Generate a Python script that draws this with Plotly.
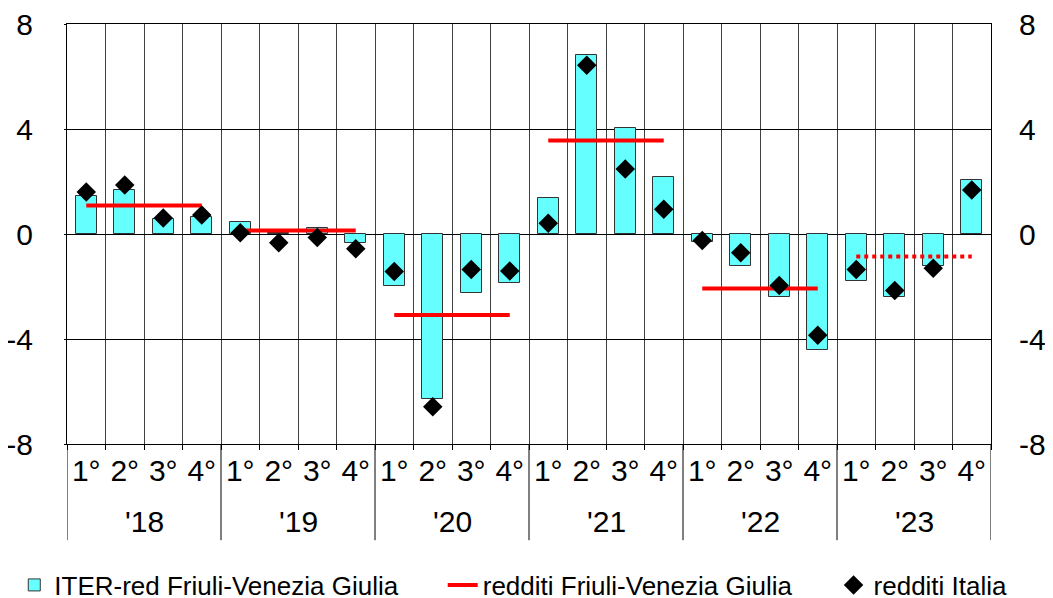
import plotly.graph_objects as go

years = ["'18", "'19", "'20", "'21", "'22", "'23"]
quarters = ["1°", "2°", "3°", "4°"]

# ITER-red Friuli-Venezia Giulia (bars), one value per quarter
iter_fvg = [1.45, 1.68, 0.58, 0.66,
            0.46, 0.02, 0.23, -0.36,
            -1.97, -6.30, -2.26, -1.88,
            1.36, 6.81, 4.03, 2.16,
            -0.32, -1.21, -2.40, -4.43,
            -1.80, -2.40, -1.21, 2.07]

# redditi Italia (diamonds)
redditi_italia = [1.60, 1.87, 0.61, 0.72,
                  0.05, -0.33, -0.13, -0.56,
                  -1.43, -6.58, -1.35, -1.41,
                  0.41, 6.43, 2.48, 0.94,
                  -0.25, -0.71, -1.96, -3.86,
                  -1.35, -2.15, -1.30, 1.68]

# redditi Friuli-Venezia Giulia, annual value (last year is an estimate, dotted)
redditi_fvg = [1.09, 0.13, -3.09, 3.56, -2.08, -0.86]

y_ticks = [-8, -4, 0, 4, 8]

nq = len(quarters)
n = len(iter_fvg)
xs = list(range(n))
x_labels = [q for y in years for q in quarters]

font = "Liberation Sans, Arial, sans-serif"

fig = go.Figure()

fig.add_trace(go.Bar(
    x=xs, y=iter_fvg, name="ITER-red Friuli-Venezia Giulia",
    marker=dict(color="#66FFFF", line=dict(color="#333333", width=1)),
    width=0.55, legend="legend",
))

for i, yr in enumerate(years):
    last = i == len(years) - 1
    fig.add_trace(go.Scatter(
        x=xs[i * nq:(i + 1) * nq], y=[redditi_fvg[i]] * nq,
        mode="lines", name="redditi Friuli-Venezia Giulia",
        line=dict(color="#FF0000", width=4, dash="dot" if last else "solid"),
        legendgroup="fvg", showlegend=(i == 0), legend="legend2",
    ))

fig.add_trace(go.Scatter(
    x=xs, y=redditi_italia, name="redditi Italia",
    mode="markers", yaxis="y2", legend="legend3",
    marker=dict(symbol="diamond", size=15, color="black"),
))

# year labels and dividers under the quarter labels
for i, yr in enumerate(years):
    fig.add_annotation(x=i * nq + (nq - 1) / 2, y=0, xref="x", yref="paper",
                       text=yr, showarrow=False, yanchor="middle", yshift=-77,
                       font=dict(size=30))
for i in range(len(years) + 1):
    fig.add_shape(type="line", xref="x", yref="paper",
                  x0=i * nq - 0.5, x1=i * nq - 0.5, y0=0, y1=-0.229,
                  line=dict(color="black", width=1))

# page body has an 8px margin, so the figure is 8px smaller than the window
leg = dict(orientation="h", yref="container", xref="container", y=0.022,
           yanchor="middle", xanchor="left", font=dict(size=26),
           bgcolor="rgba(0,0,0,0)")

fig.update_layout(
    width=1045, height=590,
    paper_bgcolor="white", plot_bgcolor="white",
    margin=dict(l=59, r=62, t=16, b=154),
    font=dict(family=font, size=30, color="black"),
    bargap=0,
    showlegend=True,
    legend=dict(leg, x=0.006),
    legend2=dict(leg, x=0.416),
    legend3=dict(leg, x=0.790),
    xaxis=dict(
        range=[-0.5, n - 0.5], tickvals=xs, ticktext=x_labels,
        showgrid=False, zeroline=False,
        showline=True, linecolor="black", linewidth=1, mirror=True,
        ticks="", ticklabelstandoff=0,
        minor=dict(tickmode="array", tickvals=[i - 0.5 for i in range(n + 1)],
                   showgrid=True, gridcolor="#404040", gridwidth=1,
                   ticks="outside", ticklen=5, tickcolor="black"),
        automargin=False,
    ),
    yaxis=dict(
        range=[-8, 8], tickvals=y_ticks, ticktext=[str(v) for v in y_ticks],
        showgrid=True, gridcolor="black", gridwidth=1,
        zeroline=True, zerolinecolor="black", zerolinewidth=1,
        showline=True, linecolor="black", linewidth=1, mirror=True,
        ticks="outside", ticklen=2, tickcolor="black",
        ticklabelstandoff=25, ticklabeloverflow="allow", automargin=False,
    ),
    yaxis2=dict(
        overlaying="y", side="right", range=[-8, 8],
        tickvals=y_ticks, ticktext=[str(v) for v in y_ticks],
        showgrid=False, zeroline=False, ticks="", ticklabelstandoff=27,
        ticklabeloverflow="allow", automargin=False,
    ),
)

fig.write_html("out.html")
